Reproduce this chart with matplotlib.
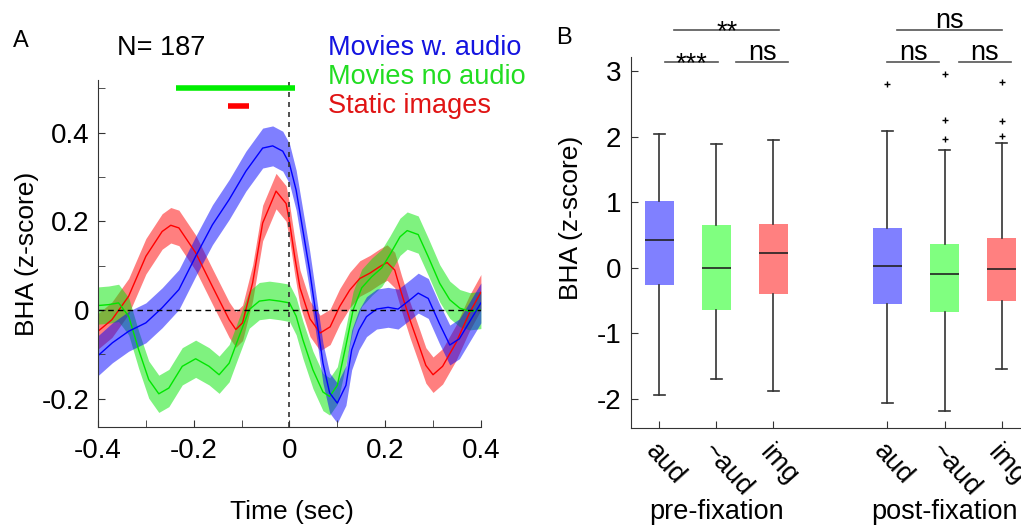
import numpy as np
import matplotlib.pyplot as plt
from matplotlib.ticker import MultipleLocator, FuncFormatter

plt.rcParams['font.family'] = ['Liberation Sans', 'DejaVu Sans']
plt.rcParams['axes.unicode_minus'] = False

# ---- panel A: time courses (mean +/- sem) ----
t_aud = [-0.40, -0.37, -0.336, -0.30, -0.266, -0.231, -0.196, -0.161, -0.126, -0.091,
         -0.056, -0.035, -0.014, 0.0, 0.014, 0.028, 0.042, 0.056, 0.07, 0.084, 0.10,
         0.118, 0.13, 0.145, 0.161, 0.182, 0.206, 0.227, 0.252, 0.269, 0.29, 0.313,
         0.335, 0.355, 0.38, 0.40]
bha_aud = [-0.103, -0.074, -0.048, -0.029, 0.005, 0.046, 0.121, 0.192, 0.249, 0.313,
           0.365, 0.37, 0.358, 0.33, 0.27, 0.18, 0.09, -0.014, -0.12, -0.187, -0.21,
           -0.17, -0.09, -0.045, -0.015, 0.002, 0.006, 0.002, 0.023, 0.038, 0.026, -0.03,
           -0.079, -0.065, -0.02, 0.016]
sem_aud = 0.045

t_noaud = [-0.40, -0.378, -0.357, -0.336, -0.315, -0.294, -0.273, -0.252, -0.224, -0.196,
           -0.168, -0.147, -0.126, -0.105, -0.084, -0.063, -0.042, -0.021, 0.0, 0.014,
           0.028, 0.049, 0.07, 0.084, 0.10, 0.118, 0.133, 0.151, 0.172, 0.193, 0.21,
           0.231, 0.246, 0.269, 0.29, 0.314, 0.335, 0.356, 0.377, 0.40]
bha_noaud = [0.01, 0.012, 0.016, -0.014, -0.09, -0.157, -0.189, -0.176, -0.127, -0.11,
             -0.127, -0.146, -0.12, -0.059, 0.001, 0.02, 0.023, 0.02, 0.016, -0.014,
             -0.067, -0.135, -0.185, -0.195, -0.17, -0.08, 0.0, 0.05, 0.075, 0.095, 0.125,
             0.165, 0.179, 0.17, 0.12, 0.06, 0.023, 0.004, -0.003, 0.0]
sem_noaud = 0.042

t_img = [-0.40, -0.371, -0.336, -0.30, -0.266, -0.248, -0.231, -0.196, -0.161, -0.126,
         -0.112, -0.098, -0.077, -0.056, -0.028, -0.007, 0.0, 0.011, 0.022, 0.043, 0.064,
         0.085, 0.105, 0.126, 0.147, 0.168, 0.189, 0.204, 0.22, 0.234, 0.252, 0.269,
         0.285, 0.30, 0.32, 0.348, 0.376, 0.40]
bha_img = [-0.048, -0.022, 0.031, 0.121, 0.177, 0.191, 0.185, 0.129, 0.053, -0.022,
           -0.044, -0.029, 0.061, 0.196, 0.268, 0.24, 0.2, 0.12, 0.05, -0.02, -0.052,
           -0.038, 0.008, 0.045, 0.071, 0.083, 0.098, 0.107, 0.09, 0.038, -0.023, -0.075,
           -0.125, -0.146, -0.127, -0.074, -0.007, 0.04]
sem_img = 0.04

# significance bars above the curves (start, end, height)
sig_noaud = (-0.237, 0.011, 0.5)
sig_img = (-0.128, -0.084, 0.46)

# ---- panel B: box plot summaries ----
box_labels = ['aud', '~aud', 'img', 'aud', '~aud', 'img']
box_pos = [1, 2, 3, 5, 6, 7]
box_q1 = [-0.27, -0.645, -0.40, -0.56, -0.675, -0.515]
box_med = [0.42, 0.0, 0.23, 0.025, -0.10, -0.02]
box_q3 = [1.01, 0.65, 0.67, 0.60, 0.36, 0.46]
box_lo = [-1.94, -1.69, -1.88, -2.07, -2.19, -1.54]
box_hi = [2.04, 1.88, 1.94, 2.08, 1.80, 1.90]
box_fliers = [[], [], [], [2.80], [2.95, 2.25, 1.96], [2.83, 2.24, 2.01]]
groups = ['pre-fixation', 'post-fixation']
group_pos = [2, 6]

# significance brackets: (x0, x1, y, text)
brackets = [(1.26, 3.10, 3.62, '**'), (1.10, 2.02, 3.13, '***'), (2.35, 3.26, 3.13, 'ns'),
            (5.16, 7.00, 3.62, 'ns'), (5.00, 5.91, 3.13, 'ns'), (6.25, 7.16, 3.13, 'ns')]

blue, green, red = '#0000ff', '#00e600', '#ff0000'
face = ['#8080ff', '#80ff80', '#ff8080'] * 2
axc = '#333333'
fs_tick = 20
fs_text = 19.5

fig = plt.figure(figsize=(10.21, 5.25), dpi=100)

def px(x, y):
    return x / 1021, 1 - y / 525

# ---------------- A ----------------
ax = fig.add_axes([0.096, 0.1867, 0.375, 0.661])
for t, m, s, c in [(t_img, bha_img, sem_img, red), (t_noaud, bha_noaud, sem_noaud, green),
                   (t_aud, bha_aud, sem_aud, blue)]:
    t = np.array(t); m = np.array(m)
    ax.fill_between(t, m - s, m + s, color=c, alpha=0.5, lw=0)
    ax.plot(t, m, color=c, lw=1)
ax.axhline(0, color='k', ls='--', lw=1, dashes=(4, 3))
ax.axvline(0, color='#333333', ls='--', lw=1.2, dashes=(3, 3))
ax.plot(sig_noaud[:2], [sig_noaud[2]] * 2, color='#00ee00', lw=4, solid_capstyle='butt')
ax.plot(sig_img[:2], [sig_img[2]] * 2, color='#ff0000', lw=4, solid_capstyle='butt')
ax.set_xlim(-0.4, 0.4)
ax.set_ylim(-0.2638, 0.5186)
ax.xaxis.set_major_locator(MultipleLocator(0.2))
ax.xaxis.set_minor_locator(MultipleLocator(0.1))
ax.yaxis.set_major_locator(MultipleLocator(0.2))
ax.yaxis.set_minor_locator(MultipleLocator(0.1))
fmt = FuncFormatter(lambda v, p: '%g' % round(v, 3))
ax.xaxis.set_major_formatter(fmt)
ax.yaxis.set_major_formatter(fmt)
for sp in ['top', 'right']:
    ax.spines[sp].set_visible(False)
for sp in ['left', 'bottom']:
    ax.spines[sp].set_color(axc)
ax.tick_params(which='both', direction='in', length=5, color=axc, labelsize=fs_tick)
ax.tick_params(axis='x', pad=8)
ax.tick_params(axis='y', pad=6)
ax.set_xlabel('Time (sec)', fontsize=19)
ax.xaxis.set_label_coords(0.507, -0.245)
ax.xaxis.label.set_va('center')
ax.set_ylabel('BHA (z-score)', fontsize=19)
ax.yaxis.set_label_coords(-0.185, 0.5)
ax.yaxis.label.set_va('center')

fig.text(*px(13, 47), 'A', fontsize=17, va='baseline')
fig.text(*px(117, 55), 'N= 187', fontsize=fs_text, va='baseline')
fig.text(*px(328, 55), 'Movies w. audio', fontsize=fs_text, color='#1414e0', va='baseline')
fig.text(*px(328, 84), 'Movies no audio', fontsize=fs_text, color='#22dd22', va='baseline')
fig.text(*px(328, 113), 'Static images', fontsize=fs_text, color='#e01414', va='baseline')

# ---------------- B ----------------
bx = fig.add_axes([0.618, 0.1848, 0.382, 0.7066])
stats = []
for i in range(len(box_pos)):
    stats.append(dict(med=box_med[i], q1=box_q1[i], q3=box_q3[i], whislo=box_lo[i],
                      whishi=box_hi[i], fliers=box_fliers[i]))
bp = bx.bxp(stats, positions=box_pos, widths=0.5, patch_artist=True, showfliers=True,
            boxprops=dict(lw=0),
            medianprops=dict(color='#222222', lw=1.2),
            whiskerprops=dict(color=axc, lw=1.2),
            capprops=dict(color=axc, lw=1.2),
            capwidths=0.2,
            flierprops=dict(marker='+', markersize=4, markeredgecolor='k', markeredgewidth=1))
for patch, c in zip(bp['boxes'], face):
    patch.set_facecolor(c)
bx.set_xlim(0.5, 7.342)
bx.set_ylim(-2.444, 3.212)
bx.set_yticks([-2, -1, 0, 1, 2, 3])
bx.yaxis.set_major_formatter(fmt)
bx.set_xticks(box_pos)
bx.set_xticklabels([])
for sp in ['top', 'right']:
    bx.spines[sp].set_visible(False)
for sp in ['left', 'bottom']:
    bx.spines[sp].set_color(axc)
bx.tick_params(which='both', direction='in', length=5, color=axc, labelsize=fs_tick)
bx.tick_params(axis='y', pad=7)
trans = bx.get_xaxis_transform()
for p, lab in zip(box_pos, box_labels):
    bx.text(p, -0.03, lab, transform=trans, fontsize=fs_text, rotation=-48,
            rotation_mode='anchor', ha='left', va='top')
for p, g in zip(group_pos, groups):
    bx.text(p, -0.2256, g, transform=trans, fontsize=fs_text, ha='center', va='center')
for x0, x1, y, s in brackets:
    bx.plot([x0, x1], [y, y], color='#555555', lw=1.2, clip_on=False)
    dy = -0.14 if s.startswith('*') else 0.04
    bx.text((x0 + x1) / 2, y + dy, s, fontsize=fs_text, ha='center', va='baseline')
fig.text(*px(571, 218), 'BHA (z-score)', fontsize=19, rotation=90, ha='center', va='center')
fig.text(*px(556, 44), 'B', fontsize=17, va='baseline')

fig.savefig('out.png', dpi=100)
